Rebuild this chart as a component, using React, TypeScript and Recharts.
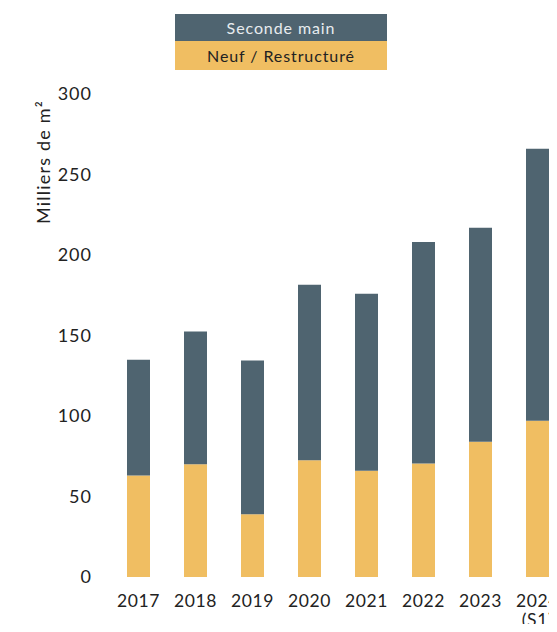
import React from "react";
import { BarChart, Bar, XAxis, YAxis, Legend, Label } from "recharts";

const categories = ["2017", "2018", "2019", "2020", "2021", "2022", "2023", "2024\n(S1)"];
const neufValues = [63, 70, 39, 72.5, 66, 70.5, 84, 97];
const secondeValues = [72, 82.5, 95.5, 109, 110, 137.5, 133, 169];
const yTicks = [0, 50, 100, 150, 200, 250, 300];

const data = categories.map((c, i) => ({
  year: c,
  neuf: neufValues[i],
  seconde: secondeValues[i],
}));

const FONT = "Lato, 'Noto Sans', sans-serif";
const DARK = "#4F6470";
const YELLOW = "#F0BE62";

const XTick = (props: any) => {
  const { x, y, payload } = props;
  const lines = String(payload.value).split("\n");
  return (
    <text x={x} y={y} textAnchor="middle" fill="#222" fontSize={17.5} fontFamily={FONT} letterSpacing={0.6}>
      {lines.map((l, i) => (
        <tspan key={i} x={x} dy={i === 0 ? 22 : 19}>
          {l}
        </tspan>
      ))}
    </text>
  );
};

const LegendBox = () => (
  <div style={{ width: 212, fontFamily: FONT, fontSize: 16, letterSpacing: 0.9, textAlign: "center" }}>
    <div style={{ background: DARK, color: "#E8ECEF", height: 27, lineHeight: "27px" }}>Seconde main</div>
    <div style={{ background: YELLOW, color: "#222", height: 29, lineHeight: "29px" }}>Neuf / Restructuré</div>
  </div>
);

const YLabel = () => {
  const cx = 35;
  const cy = 154;
  return (
    <text
      x={cx}
      y={cy}
      transform={`rotate(-90, ${cx}, ${cy})`}
      textAnchor="middle"
      dominantBaseline="central"
      fill="#222"
      fontSize={18}
      letterSpacing={1.2}
      fontFamily={FONT}
    >
      Milliers de m²
    </text>
  );
};

export default function App() {
  return (
    <div style={{ width: 549, height: 624, marginBottom: -8 }}>
      <BarChart
        width={549}
        height={624}
        data={data}
        margin={{ top: 30, right: -9, bottom: 5, left: 0 }}
      >
        <Legend
          verticalAlign="top"
          content={LegendBox}
          wrapperStyle={{ position: "absolute", top: 6, left: 167, width: 212 }}
        />
        <XAxis
          dataKey="year"
          axisLine={false}
          tickLine={false}
          interval={0}
          height={50}
          tick={<XTick />}
        />
        <YAxis
          width={102}
          domain={[0, 300]}
          ticks={yTicks}
          axisLine={false}
          tickLine={false}
          tickMargin={12}
          tick={{ fill: "#222", fontSize: 18, fontFamily: FONT, letterSpacing: 1 }}
        >
          <Label content={<YLabel />} />
        </YAxis>
        <Bar dataKey="neuf" stackId="a" fill={YELLOW} barSize={23} isAnimationActive={false} name="Neuf / Restructuré" />
        <Bar dataKey="seconde" stackId="a" fill={DARK} barSize={23} isAnimationActive={false} name="Seconde main" />
      </BarChart>
    </div>
  );
}
